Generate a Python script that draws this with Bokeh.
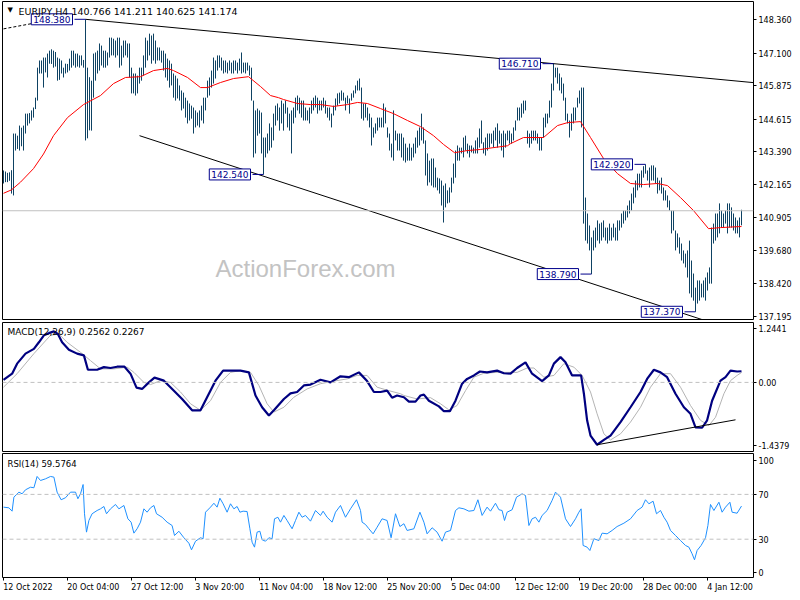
from bokeh.plotting import figure
from bokeh.layouts import column
from bokeh.models import (Range1d, FixedTicker, PrintfTickFormatter, Label, Span, LinearAxis,
                          CustomJSTickFormatter)
from bokeh.embed import file_html
from bokeh.resources import INLINE

# ---------------- data ----------------
symbol = "EURJPY,H4"
last_ohlc = [140.766, 141.211, 140.625, 141.174]

x_tick_idx = [0, 32, 64, 96, 128, 160, 192, 224, 256, 288, 320, 352]
x_tick_labels = ["12 Oct 2022", "20 Oct 04:00", "27 Oct 12:00", "3 Nov 20:00", "11 Nov 04:00",
                 "18 Nov 12:00", "25 Nov 20:00", "5 Dec 04:00", "12 Dec 12:00", "19 Dec 20:00",
                 "28 Dec 00:00", "4 Jan 12:00"]
price_ticks = [148.360, 147.100, 145.875, 144.615, 143.390, 142.165, 140.905, 139.680, 138.420, 137.195]
macd_ticks = [1.2441, 0.0, -1.4379]
rsi_ticks = [100, 70, 30, 0]
rsi_levels = [70, 30]

bar_high = [
142.69,142.65,142.60,142.62,142.70,144.08,144.08,144.00,144.38,144.30,
144.38,144.83,144.83,144.85,144.95,145.06,145.43,146.56,146.83,146.83,
146.94,146.94,147.09,147.20,147.25,147.20,147.15,146.94,146.90,146.83,
146.56,146.71,146.70,146.90,147.20,147.20,147.09,147.09,147.02,147.02,
146.85,148.38,146.56,146.20,146.07,147.09,147.13,147.20,147.47,147.39,
147.20,147.20,147.13,147.69,147.69,147.65,147.58,147.69,147.69,147.39,
147.58,147.58,147.47,147.47,146.56,146.34,146.34,146.26,146.56,146.56,
147.02,147.69,147.58,147.84,147.77,147.84,147.58,147.32,147.32,147.20,
147.20,147.09,146.90,146.83,146.71,146.34,146.26,146.15,145.89,145.70,
145.62,145.43,145.32,145.21,145.13,145.06,144.95,144.87,144.95,145.13,
145.43,145.43,146.07,146.19,146.45,146.94,146.83,147.02,147.02,146.94,
146.83,146.83,146.75,146.83,146.75,146.83,146.83,146.75,146.90,147.13,
146.75,146.75,146.75,146.64,146.56,145.32,144.95,145.02,144.95,144.87,
143.93,143.93,144.08,144.46,144.31,144.83,145.13,145.21,145.06,145.32,
145.21,145.32,145.06,144.83,144.95,145.06,145.43,145.51,145.43,145.32,
145.32,145.06,144.95,145.06,145.32,145.43,145.51,145.43,145.32,145.32,
145.43,145.32,145.06,145.06,144.83,145.13,145.40,145.59,145.62,145.70,
145.62,145.43,145.51,145.40,145.59,145.70,145.89,146.07,146.15,145.81,
145.21,145.21,145.06,144.83,144.68,144.31,144.46,144.68,144.68,144.68,
145.21,145.06,144.31,144.08,143.70,144.95,144.19,144.08,144.08,144.08,
143.93,143.70,143.55,143.70,143.55,143.70,143.93,144.19,144.31,144.83,
144.31,143.82,143.33,143.06,143.14,143.14,142.80,142.42,142.39,142.31,
142.12,142.20,141.94,142.05,142.42,142.95,143.44,143.63,143.55,143.55,
143.93,144.00,143.70,143.63,143.63,143.55,143.82,143.93,144.27,144.57,
143.75,143.93,144.08,144.08,144.08,144.19,144.31,144.46,144.19,144.08,
144.19,144.08,144.19,144.19,144.08,144.31,144.57,145.06,145.06,145.21,
145.32,145.32,144.19,144.08,144.19,144.19,144.19,144.08,143.93,143.93,
144.68,144.83,144.83,145.32,145.96,146.71,146.56,146.56,146.34,146.19,
145.96,145.43,144.83,144.57,144.83,145.06,145.06,145.43,145.70,145.81,
145.81,141.67,141.07,140.62,140.17,140.43,140.54,140.81,140.69,140.73,
140.81,140.54,140.54,140.69,140.54,140.69,140.54,140.81,140.81,141.07,
141.18,141.18,141.37,141.56,141.82,142.05,142.31,142.57,142.57,142.69,
142.85,142.92,142.69,142.80,142.88,142.88,142.80,142.42,142.31,142.42,
142.05,141.94,141.75,141.56,141.18,141.18,140.43,140.32,140.17,139.94,
139.68,139.56,139.68,140.05,139.30,138.81,138.28,138.55,138.55,138.43,
138.55,138.66,138.85,139.04,140.54,140.69,141.07,141.07,141.45,141.18,
141.07,141.18,141.45,141.45,141.30,141.07,140.92,140.81,140.92,141.211]

bar_low = [
142.20,142.25,142.25,142.30,141.82,141.75,143.44,143.50,143.44,143.60,
143.44,144.08,144.38,144.46,144.57,144.68,145.00,145.32,146.34,146.34,
145.81,146.38,146.19,146.71,146.70,146.56,146.60,146.07,146.10,146.34,
146.19,146.34,146.38,146.45,146.56,146.64,146.56,146.60,146.56,146.64,
146.56,143.82,143.90,144.20,144.19,145.43,146.07,146.34,146.45,146.64,
146.56,146.56,146.64,146.94,147.02,147.02,146.94,147.02,146.56,146.64,
146.94,147.02,146.94,146.19,145.59,145.59,145.51,145.59,145.96,146.07,
146.26,146.56,146.83,147.02,146.71,146.83,146.71,146.83,146.83,146.75,
146.45,146.19,146.07,145.81,145.89,145.43,145.32,145.40,145.32,144.95,
145.02,144.68,144.46,144.57,144.64,144.08,144.31,144.38,144.31,144.57,
144.46,144.95,145.43,145.51,145.81,145.96,146.15,146.45,146.56,146.45,
146.34,146.38,146.34,146.45,146.34,146.34,146.45,146.34,146.45,146.34,
146.38,146.34,146.45,146.26,145.32,143.18,143.33,144.00,144.08,143.33,
142.54,143.18,143.33,143.44,143.55,143.82,144.38,144.57,144.19,144.46,
144.19,144.83,144.31,144.19,143.33,144.46,144.68,144.95,144.83,144.68,
144.57,144.57,144.57,144.46,144.83,144.95,145.06,144.83,144.95,144.95,
145.06,144.83,144.68,144.57,144.31,144.76,144.95,145.13,145.21,145.32,
145.32,144.95,145.21,144.83,145.32,145.43,145.59,145.70,145.70,144.64,
144.57,144.68,144.57,144.31,143.63,143.93,144.08,144.19,144.31,144.31,
144.31,144.46,143.93,143.44,143.18,143.06,143.82,143.44,143.44,143.18,
143.06,142.99,143.06,143.06,143.06,143.18,143.33,143.55,143.63,143.82,
143.70,142.50,142.12,142.24,142.12,142.05,142.05,141.94,141.82,141.37,
140.73,141.30,141.45,141.48,141.86,142.20,142.42,143.06,143.06,143.33,
143.18,143.44,143.33,143.18,143.37,143.33,143.33,143.33,143.55,143.70,
143.33,143.25,143.44,143.55,143.70,143.55,143.82,143.55,143.70,143.44,
143.18,143.55,143.82,143.70,143.70,143.82,144.19,144.57,144.57,144.68,
144.83,144.95,143.70,143.55,143.70,143.82,143.82,143.70,143.44,143.44,
143.93,144.31,144.46,144.68,145.06,145.70,146.19,145.96,145.70,145.59,
145.32,144.57,144.46,143.93,144.19,144.46,144.57,145.06,145.21,144.31,
140.69,140.05,139.94,139.68,138.79,139.68,139.79,140.05,139.94,140.05,
140.17,140.05,139.94,140.05,140.05,140.17,140.05,140.05,140.43,140.54,
140.69,140.81,140.92,141.07,141.18,141.45,141.67,141.94,142.05,142.05,
142.42,142.57,142.31,142.05,142.31,142.31,142.20,141.82,141.94,141.82,
141.56,141.56,141.30,141.18,140.32,140.43,139.68,139.79,139.56,139.30,
139.19,139.04,138.66,138.06,137.91,137.79,137.37,137.68,137.79,137.91,
137.91,137.79,138.17,138.43,138.43,139.94,140.05,140.17,140.32,140.54,
140.54,140.69,140.32,140.54,140.54,140.43,140.32,140.32,140.17,140.625]

bar_close = [
142.45,142.35,142.50,142.40,142.20,143.95,143.70,143.60,144.20,143.80,
144.30,144.70,144.60,144.70,144.80,144.95,145.35,146.40,146.60,146.50,
146.20,146.70,146.90,147.00,146.90,147.10,146.80,146.40,146.50,146.50,
146.30,146.60,146.50,146.80,147.00,146.90,146.80,146.90,146.80,146.90,
146.70,145.20,145.50,145.00,145.80,146.90,146.80,147.00,147.30,146.90,
146.80,147.00,147.00,147.50,147.30,147.40,147.20,147.50,146.80,147.20,
147.30,147.20,147.10,146.40,145.80,146.00,145.70,146.00,146.40,146.30,
146.90,147.50,147.20,147.60,147.00,147.50,146.90,147.10,147.00,146.90,
146.60,146.40,146.30,146.00,146.20,145.70,145.50,145.60,145.50,145.20,
145.30,144.90,144.70,144.80,144.80,144.30,144.50,144.60,144.50,144.90,
145.20,145.30,145.90,146.00,146.30,146.70,146.50,146.80,146.70,146.60,
146.50,146.60,146.50,146.70,146.50,146.60,146.70,146.50,146.80,146.60,
146.60,146.50,146.60,146.40,145.50,143.50,144.20,144.60,144.30,143.70,
143.40,143.50,143.80,144.10,143.90,144.60,144.90,144.80,144.50,145.00,
144.60,145.00,144.60,144.50,144.40,144.80,145.20,145.30,145.00,144.90,
144.80,144.70,144.80,144.90,145.10,145.20,145.30,145.10,145.20,145.10,
145.30,145.00,144.90,144.80,144.50,145.00,145.30,145.40,145.50,145.50,
145.40,145.20,145.40,145.10,145.50,145.60,145.80,145.90,145.80,144.90,
144.80,145.00,144.70,144.50,143.90,144.10,144.30,144.50,144.50,144.60,
144.90,144.70,144.00,143.60,143.30,143.90,144.00,143.70,143.60,143.40,
143.30,143.20,143.30,143.40,143.20,143.50,143.70,143.90,144.00,144.20,
143.80,142.80,142.40,142.60,142.40,142.30,142.20,142.10,142.00,141.60,
141.50,141.60,141.60,141.90,142.30,142.80,143.30,143.40,143.30,143.40,
143.70,143.60,143.50,143.40,143.50,143.50,143.60,143.80,144.00,143.90,
143.50,143.60,143.90,143.80,143.90,144.00,144.10,143.80,144.00,143.70,
143.60,143.90,144.00,143.90,143.90,144.20,144.50,144.90,144.80,145.00,
145.10,145.00,143.90,143.80,144.00,144.00,143.90,143.80,143.70,143.80,
144.50,144.60,144.70,145.20,145.80,146.40,146.30,146.20,145.90,145.80,
145.50,144.80,144.60,144.20,144.70,144.90,144.90,145.30,145.60,145.50,
141.00,140.30,140.20,139.90,139.60,140.20,140.00,140.50,140.20,140.40,
140.50,140.30,140.20,140.40,140.30,140.50,140.30,140.60,140.70,140.90,
141.00,141.10,141.30,141.40,141.70,141.90,142.20,142.40,142.30,142.50,
142.70,142.80,142.40,142.60,142.70,142.60,142.40,142.10,142.10,142.00,
141.70,141.70,141.40,141.30,140.50,140.70,139.90,140.00,139.80,139.50,
139.40,139.20,138.90,138.30,138.10,138.00,137.70,138.20,138.00,138.30,
138.40,138.50,138.70,138.90,140.40,140.20,140.80,140.40,141.20,140.80,
140.70,141.00,140.60,141.10,140.80,140.70,140.60,140.70,140.77,141.174]

# moving average (red), read at sample bars
ma_i = [0, 4, 8.5, 15, 20, 25, 32, 40, 48.5, 55, 61, 68.5, 75, 82, 85, 92, 98.5, 102, 108.5, 115,
        122.5, 128.5, 133.5, 137.5, 140, 147, 153.5, 158.5, 165, 172, 177, 182, 188.5, 195, 202,
        208.5, 215, 220, 225.5, 232, 238.5, 245, 252, 253.5, 260, 270, 277, 282, 288.5, 293.5,
        300, 307, 313.5, 320, 327, 332, 338.5, 345, 352.5, 358.5, 369]
ma_v = [141.83, 141.96, 142.25, 142.76, 143.31, 144.00, 144.68, 145.17, 145.51, 145.96, 146.19,
        146.22, 146.45, 146.53, 146.45, 146.19, 145.81, 145.81, 146.00, 146.15, 146.22, 145.85,
        145.51, 145.43, 145.36, 145.21, 145.17, 145.17, 145.10, 145.17, 145.25, 145.21, 145.02,
        144.83, 144.57, 144.34, 144.00, 143.67, 143.36, 143.44, 143.48, 143.55, 143.62, 143.70,
        143.93, 143.93, 144.38, 144.49, 144.53, 143.93, 143.14, 142.57, 142.20, 142.16, 142.20,
        142.12, 141.67, 141.18, 140.50, 140.54, 140.58]

macd_i = [0, 4.3, 6.8, 11, 15.2, 17.7, 20.2, 22.7, 25.2, 27.2, 29.3, 32.7, 36.8, 40.2, 42.2, 46.8,
          50.2, 53.5, 56.8, 60.5, 63.5, 66.5, 69.3, 72.7, 75.5, 80.2, 85.2, 89.3, 94.3, 98.5, 101.8,
          106, 109.8, 115.2, 118.5, 122.7, 126, 129.3, 132.7, 135.2, 140.2, 143.5, 146.8, 150.2,
          153.5, 158.5, 163.5, 168.5, 172.7, 177.7, 181.8, 185.2, 188.5, 191.8, 194.3, 196.8,
          200.2, 202.7, 206, 208.5, 210.2, 212.7, 217.7, 220.2, 223.2, 226, 229.3, 231.8, 235.2,
          238.2, 241.8, 246.8, 250.2, 253.5, 256.8, 261, 264.3, 269.3, 272.7, 275.2, 278.5, 281,
          284.3, 288.8, 290.2, 291.8, 293.5, 296.8, 300.2, 303.5, 308.5, 313.5, 318.5, 321.8,
          325.2, 328.5, 331.8, 336, 340.2, 343.5, 346, 349.3, 351.8, 354.3, 358.5, 361, 363.5,
          366.8, 369]
macd_v = [0.06, 0.20, 0.43, 0.66, 0.77, 0.92, 1.08, 1.13, 1.17, 1.11, 0.92, 0.75, 0.66, 0.62, 0.29,
          0.29, 0.35, 0.33, 0.36, 0.36, 0.20, -0.12, -0.15, 0.00, 0.11, 0.04, -0.19, -0.38, -0.64,
          -0.64, -0.34, 0.04, 0.27, 0.27, 0.27, 0.23, -0.30, -0.57, -0.76, -0.64, -0.38, -0.25,
          -0.22, -0.07, -0.05, 0.06, 0.00, 0.14, 0.12, 0.23, 0.03, -0.22, -0.22, -0.19, -0.35,
          -0.30, -0.34, -0.44, -0.44, -0.30, -0.28, -0.42, -0.55, -0.66, -0.66, -0.42, -0.03, 0.08,
          0.16, 0.25, 0.23, 0.27, 0.21, 0.20, 0.33, 0.46, 0.20, 0.03, 0.16, 0.43, 0.58, 0.46, 0.16,
          0.16, -0.26, -0.87, -1.22, -1.43, -1.32, -1.22, -0.91, -0.57, -0.22, 0.08, 0.29, 0.23,
          0.12, -0.26, -0.57, -0.72, -1.03, -1.04, -0.87, -0.42, 0.04, 0.12, 0.27, 0.25, 0.2562]

sig_i = [0, 6.8, 15.2, 23.5, 27.7, 31.8, 38.5, 43.5, 48.5, 55.2, 61.8, 65.2, 70.2, 73.5, 78.5, 83.5,
         88.5, 93.5, 98.5, 103.5, 108.5, 113.5, 118.5, 123.5, 127.7, 131.8, 135.2, 140.2, 145.2,
         151.8, 158.5, 165.2, 171.8, 176.8, 181.8, 186.8, 192.7, 198.5, 200.2, 206.8, 213.5, 218.5,
         222.7, 226.8, 231, 235.2, 240.2, 246.8, 251.8, 256.8, 261.8, 265.2, 270.2, 275.2, 280.2,
         285.2, 289.3, 293.5, 296.8, 300.2, 303.5, 308.5, 313.5, 318.5, 323.5, 328.5, 333.5, 338.5,
         343.5, 348.5, 352.7, 356, 360.2, 363.5, 366.8, 369]
sig_v = [-0.11, 0.20, 0.66, 1.08, 1.11, 0.92, 0.69, 0.50, 0.31, 0.31, 0.35, 0.23, 0.00, -0.05, 0.04,
         0.00, -0.22, -0.49, -0.64, -0.42, 0.00, 0.23, 0.27, 0.23, -0.07, -0.49, -0.68, -0.57,
         -0.34, -0.15, -0.03, 0.03, 0.08, 0.16, 0.16, -0.11, -0.19, -0.26, -0.30, -0.38, -0.35,
         -0.49, -0.63, -0.53, -0.19, 0.12, 0.21, 0.23, 0.23, 0.23, 0.33, 0.33, 0.12, 0.16, 0.43,
         0.35, 0.16, -0.22, -0.72, -1.18, -1.32, -1.18, -0.91, -0.57, -0.11, 0.20, 0.20, -0.11,
         -0.53, -0.87, -0.99, -0.80, -0.26, 0.04, 0.16, 0.2267]

rsi_i = [0, 2.7, 4.3, 5.2, 7.7, 9.3, 11, 13.5, 15.2, 16.8, 18.5, 21, 23.5, 25.2, 26.8, 28.8, 31, 33.5,
         36, 37.2, 38.5, 39.8, 40.5, 41.5, 42.7, 44.3, 46.8, 48.5, 50.2, 51.5, 53.5, 56, 57.7, 60.2,
         62.2, 63.8, 65.2, 66.8, 68.5, 70.2, 71.8, 73.5, 75.2, 76.5, 79.3, 81.8, 84.3, 85.5, 87.7,
         90.2, 92.7, 94, 96, 98.5, 99.8, 101, 103.5, 105.2, 106.8, 108.2, 109.8, 111.8, 113.5, 115.2,
         116.8, 118.2, 119.8, 121.8, 123.2, 124.3, 125.5, 126.8, 128.2, 129.3, 131, 132.7, 134.3,
         135.5, 137.2, 138.5, 140.2, 141.8, 144.3, 146, 147.7, 149.3, 151, 153.5, 156, 158.5, 159.8,
         161.8, 164.3, 166, 168.5, 171, 173.5, 176.5, 178.5, 179.3, 181, 182.7, 184.8, 186.8, 189.3,
         191.8, 193.8, 196, 198.2, 200.2, 201.8, 205.2, 208.2, 210.2, 211.8, 214.3, 216.8, 219.3,
         221, 223.5, 226, 227.7, 230.2, 232.7, 235.2, 237.2, 239.3, 241.8, 243.5, 246, 247.7, 249.3,
         250.5, 251.8, 254.3, 256.5, 259.3, 261, 262.7, 264.3, 266, 267.7, 269.3, 271.8, 274.3, 276,
         278.5, 281, 283.5, 286, 287.7, 288.8, 289.8, 291.8, 293.2, 295.2, 297.7, 299.3, 301.8,
         304.3, 306.8, 310.2, 313.5, 316.8, 319.3, 321, 322.7, 324.8, 326.5, 328.5, 330.2, 331.8,
         333.5, 336, 338.5, 341, 342.7, 344.3, 345.5, 346.8, 348.8, 351, 352.2, 353.5, 355.2, 357.7,
         359.3, 361, 363.2, 364.3, 366.8, 369]
rsi_v = [58.6, 58.0, 55.0, 67.5, 72.0, 70.5, 74.1, 76.4, 75.9, 86.0, 82.4, 83.9, 86.0, 85.4, 72.0,
         65.2, 67.0, 72.0, 72.0, 66.1, 70.5, 78.8, 52.7, 36.3, 46.7, 52.7, 55.6, 57.1, 59.2, 52.7,
         57.1, 61.0, 57.1, 60.1, 48.2, 45.2, 35.4, 39.3, 45.2, 57.1, 54.1, 58.0, 60.1, 52.7, 49.6,
         45.2, 42.2, 33.3, 37.1, 31.3, 26.4, 20.5, 28.2, 31.3, 30.4, 54.1, 58.6, 62.1, 58.6, 66.6,
         61.6, 54.1, 61.6, 57.1, 59.2, 54.1, 55.0, 54.7, 39.3, 27.3, 22.9, 36.3, 37.1, 29.5, 28.2,
         31.3, 30.4, 48.2, 49.6, 45.2, 51.2, 46.7, 39.3, 46.7, 54.1, 49.6, 51.2, 46.1, 55.6, 51.2,
         55.0, 49.6, 45.2, 54.1, 60.1, 49.6, 57.1, 65.2, 55.6, 45.2, 43.1, 39.3, 34.8, 40.7, 48.2,
         46.7, 31.3, 52.7, 41.3, 43.8, 37.8, 39.3, 54.1, 45.2, 34.8, 40.2, 36.3, 28.2, 36.3, 37.8,
         55.6, 58.0, 57.1, 55.0, 55.6, 65.2, 51.2, 58.6, 55.0, 62.1, 56.3, 55.6, 46.7, 54.1, 56.3,
         67.5, 70.5, 69.0, 42.2, 48.2, 49.6, 45.2, 51.2, 55.6, 64.6, 72.0, 67.5, 48.2, 41.3, 48.2,
         54.1, 57.1, 24.4, 22.9, 19.9, 30.4, 28.8, 35.4, 34.8, 37.8, 41.3, 44.3, 48.2, 55.6, 58.6,
         65.2, 61.6, 63.9, 52.7, 55.6, 49.6, 45.2, 37.8, 33.3, 28.8, 24.4, 22.9, 17.0, 11.6, 19.9,
         24.4, 31.3, 42.2, 61.0, 55.6, 63.0, 54.1, 58.6, 63.0, 54.1, 53.2, 59.5764]

# marked swing points (bar index, price)
pivot_idx = [41, 130, 275, 294, 321, 346]
pivot_val = [148.380, 142.540, 146.710, 138.790, 142.920, 137.370]

# trend lines (anchor points)
upper_tl_i = [41, 275]
upper_tl_v = [148.38, 146.71]
lower_tl_i = [68, 352]
lower_tl_v = [144.00, 137.01]
dash_tl_i = [0, 15]
dash_tl_v = [148.02, 148.23]
macd_tl_i = [296.8, 366]
macd_tl_v = [-1.43, -0.858]

# ---------------- styling ----------------
FONT = "DejaVu Sans"
BAR = "#0e4263"
NAVY = "#00008b"
n = len(bar_high)
idx = list(range(n))

FRAME_W = 751
PX_PER_BAR = 2.0
xr = Range1d(-0.5, -0.5 + FRAME_W / PX_PER_BAR)


def panel(ylo, yhi, fh, bt, bb):
    p = figure(frame_width=FRAME_W, frame_height=fh, x_range=xr, y_range=Range1d(ylo, yhi),
               output_backend="svg", toolbar_location=None,
               y_axis_location="right", x_axis_location=None,
               min_border_left=2, min_border_right=39, min_border_top=bt, min_border_bottom=bb,
               background_fill_color="white", border_fill_color="white")
    p.grid.visible = False
    p.outline_line_color = "black"
    p.outline_line_alpha = 1.0
    p.outline_line_width = 1
    ya = p.yaxis[0]
    ya.axis_line_color = None
    ya.major_tick_out = 3
    ya.major_tick_in = 0
    ya.major_tick_line_color = "black"
    ya.minor_tick_line_color = None
    ya.major_label_standoff = 2
    ya.major_label_text_font = FONT
    ya.major_label_text_font_size = "8px"
    ya.major_label_text_color = "black"
    return p


# ---------------- main price panel ----------------
P_LO, P_HI = 137.08, 149.05
p1 = panel(P_LO, P_HI, 318, 1, 2)
p1.yaxis[0].ticker = FixedTicker(ticks=price_ticks)
p1.yaxis[0].formatter = PrintfTickFormatter(format="%.3f")

p1.add_layout(Span(location=last_ohlc[3], dimension="width", line_color="#c0c0c0", line_width=1))

p1.add_layout(Label(x=151, y=139.0, text="ActionForex.com", text_font="Liberation Sans",
                    text_font_size="24px", text_color="#c3c3c3", text_align="center",
                    text_baseline="middle", level="underlay"))

p1.segment(x0=idx, y0=bar_low, x1=idx, y1=bar_high, line_color=BAR, line_width=1)
p1.line(ma_i, ma_v, line_color="#ff0000", line_width=1)

slope = (upper_tl_v[1] - upper_tl_v[0]) / (upper_tl_i[1] - upper_tl_i[0])
p1.line([upper_tl_i[0], xr.end], [upper_tl_v[0], upper_tl_v[0] + slope * (xr.end - upper_tl_i[0])],
        line_color="black", line_width=1)
p1.line(lower_tl_i, lower_tl_v, line_color="black", line_width=1)
p1.line(dash_tl_i, dash_tl_v, line_color="black", line_width=1, line_dash="3 2")

conn = 5.5
p1.segment(x0=[i - conn for i in pivot_idx], x1=pivot_idx, y0=pivot_val, y1=pivot_val,
           line_color=NAVY, line_width=1)
for i, v in zip(pivot_idx, pivot_val):
    p1.add_layout(Label(x=i - conn, y=v, x_offset=-2, text=f"{v:.3f}", text_align="right",
                        text_baseline="middle", text_font=FONT, text_font_size="9px",
                        text_color=NAVY, border_line_color=NAVY, border_line_width=1,
                        background_fill_color="white", padding=2))

p1.add_layout(Label(x=xr.start, y=P_HI, x_offset=5, y_offset=-4, text="\u25bc",
                    text_font=FONT, text_font_size="7px", text_color="black", text_baseline="top"))
p1.add_layout(Label(x=xr.start, y=P_HI, x_offset=16, y_offset=-4,
                    text=f"{symbol} {last_ohlc[0]:.3f} {last_ohlc[1]:.3f} {last_ohlc[2]:.3f} {last_ohlc[3]:.3f}",
                    text_font=FONT, text_font_size="9.5px", text_color="black", text_baseline="top"))
p1.add_layout(Label(x=xr.end, y=last_ohlc[3], x_offset=4, text=f"{last_ohlc[3]:.3f}",
                    text_font=FONT, text_font_size="8px", text_color="white", text_align="left",
                    text_baseline="middle", background_fill_color="black", padding=2))

# ---------------- MACD panel ----------------
M_LO, M_HI = -1.585, 1.374
p2 = panel(M_LO, M_HI, 129, 1, 1)
p2.yaxis[0].ticker = FixedTicker(ticks=macd_ticks)
p2.yaxis[0].major_label_overrides = {1.2441: "1.2441", 0.0: "0.00", -1.4379: "-1.4379"}
p2.add_layout(Span(location=0, dimension="width", line_color="#c0c0c0", line_width=1, line_dash="4 3"))
p2.line(sig_i, sig_v, line_color="#b4b4b4", line_width=1)
p2.line(macd_i, macd_v, line_color="#000080", line_width=2.2)
p2.line(macd_tl_i, macd_tl_v, line_color="black", line_width=1)
p2.add_layout(Label(x=xr.start, y=M_HI, x_offset=5, y_offset=-4,
                    text=f"MACD(12,26,9) {macd_v[-1]:.4f} {sig_v[-1]:.4f}",
                    text_font=FONT, text_font_size="9px", text_color="black", text_baseline="top"))

# ---------------- RSI panel ----------------
R_LO, R_HI = -4.2, 106.5
p3 = panel(R_LO, R_HI, 124, 1, 15)
p3.yaxis[0].ticker = FixedTicker(ticks=rsi_ticks)
for lv in rsi_levels:
    p3.add_layout(Span(location=lv, dimension="width", line_color="#c0c0c0", line_width=1, line_dash="4 3"))
p3.line(rsi_i, rsi_v, line_color="#1e90ff", line_width=1)
p3.add_layout(Label(x=xr.start, y=R_HI, x_offset=5, y_offset=-5,
                    text=f"RSI(14) {rsi_v[-1]:.4f}",
                    text_font=FONT, text_font_size="8.5px", text_color="black", text_baseline="top"))

# x axis: tick marks at the true positions (minor ticks), left-aligned labels
CHAR_EM = {" ": 0.318, ":": 0.337, "O": 0.787, "c": 0.550, "t": 0.392, "N": 0.748, "o": 0.612,
           "v": 0.592, "D": 0.770, "e": 0.615, "J": 0.295, "a": 0.613, "n": 0.634}
LABEL_PX = 8


def label_width(s):
    return 0.95 * LABEL_PX * sum(CHAR_EM.get(c, 0.636) for c in s)


label_pos = [t + (label_width(s) / 2 + 1) / PX_PER_BAR for t, s in zip(x_tick_idx, x_tick_labels)]
xa = LinearAxis(ticker=FixedTicker(ticks=label_pos, minor_ticks=x_tick_idx))
xa.formatter = CustomJSTickFormatter(args=dict(pos=label_pos, labels=x_tick_labels), code="""
    let k = 0, best = 1e9;
    for (let j = 0; j < pos.length; j++) {
        const d = Math.abs(pos[j] - tick);
        if (d < best) { best = d; k = j; }
    }
    return labels[k];
""")
xa.axis_line_color = None
xa.major_tick_line_color = None
xa.major_tick_out = 0
xa.major_tick_in = 0
xa.minor_tick_line_color = "black"
xa.minor_tick_out = 3
xa.minor_tick_in = 0
xa.major_label_standoff = 2
xa.major_label_text_font = FONT
xa.major_label_text_font_size = f"{LABEL_PX}px"
xa.major_label_text_color = "black"
p3.add_layout(xa, "below")

layout = column(p1, p2, p3, spacing=0)
open("out.html", "w").write(file_html(layout, INLINE))
